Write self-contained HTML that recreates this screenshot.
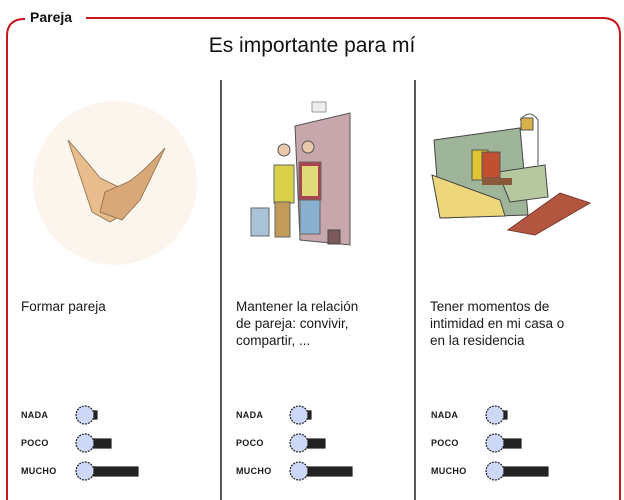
<!DOCTYPE html>
<html><head><meta charset="utf-8"><style>
html,body{margin:0;padding:0;background:#fff;width:624px;height:500px;overflow:hidden;font-family:"Liberation Sans",sans-serif;}
.t{position:absolute;font-size:13.5px;line-height:17px;color:#1a1a1a;}
.l{position:absolute;font-size:9px;font-weight:bold;color:#1a1a1a;letter-spacing:0.3px;}
</style></head><body>
<svg width="624" height="500" style="position:absolute;left:0;top:0">
<path d="M7 500 V36 Q7 20 23 19 H25" fill="none" stroke="#c8161d" stroke-width="2"/>
<path d="M86 18 H604 Q620 19 620 35 V500" fill="none" stroke="#c8161d" stroke-width="2"/>
<line x1="221" y1="80" x2="221" y2="500" stroke="#222" stroke-width="1.5"/>
<line x1="415" y1="80" x2="415" y2="500" stroke="#222" stroke-width="1.5"/>
<!-- hands -->
<circle cx="115" cy="183" r="82" fill="#fbf5ee"/>
<path d="M68 140 Q90 165 100 178 L125 190 L130 210 L110 222 L92 212 Q78 170 68 140Z" fill="#e8bc8c" stroke="#8a6a4a" stroke-width="0.8"/>
<path d="M165 148 Q140 175 128 182 L105 192 L100 212 L122 220 L140 200 Q155 170 165 148Z" fill="#d9a878" stroke="#8a6a4a" stroke-width="0.8"/>
<!-- door scene -->
<rect x="312" y="102" width="14" height="10" fill="#eee" stroke="#999"/>
<path d="M295 126 L350 113 L350 245 L300 240Z" fill="#c7a7ac" stroke="#555"/>
<circle cx="284" cy="150" r="6" fill="#e8c8a8" stroke="#555"/>
<circle cx="308" cy="147" r="6" fill="#e8c8a8" stroke="#555"/>
<rect x="274" y="165" width="20" height="38" fill="#d9d04a" stroke="#666"/>
<rect x="275" y="202" width="15" height="35" fill="#c49a5a" stroke="#666"/>
<rect x="299" y="162" width="22" height="38" fill="#a8444f" stroke="#666"/>
<rect x="302" y="166" width="16" height="30" fill="#e0db7a"/>
<rect x="300" y="200" width="20" height="34" fill="#8ab0d0" stroke="#666"/>
<rect x="251" y="208" width="18" height="28" fill="#a8c4d6" stroke="#666"/>
<rect x="328" y="230" width="12" height="14" fill="#7a5a5a" stroke="#444"/>
<!-- sofa scene -->
<path d="M434 140 L520 128 L528 215 L440 218Z" fill="#9fb59a" stroke="#444"/>
<path d="M432 175 L440 218 L505 216 L500 200 Z" fill="#eed77a" stroke="#444"/>
<path d="M498 172 L545 165 L548 197 L510 202Z" fill="#b5c89f" stroke="#444"/>
<rect x="472" y="150" width="16" height="30" fill="#e0c630" stroke="#555"/>
<rect x="482" y="152" width="18" height="26" fill="#c0502f" stroke="#555"/>
<rect x="482" y="178" width="30" height="7" fill="#8a5a3a"/>
<path d="M520 120 Q530 108 538 120 V165" fill="none" stroke="#555"/>
<rect x="521" y="118" width="12" height="12" fill="#d9b34a" stroke="#555"/>
<path d="M508 230 L560 193 L590 203 L535 235Z" fill="#b2563f" stroke="#7a3a2a"/>
</svg>
<div style="position:absolute;left:30px;top:9px;font-size:14px;font-weight:bold;color:#111">Pareja</div>
<div style="position:absolute;left:0;width:624px;top:34px;text-align:center;font-size:21px;color:#111">Es importante para mí</div>
<div class="t" style="left:21px;top:298px">Formar pareja</div>
<div class="t" style="left:236px;top:298px">Mantener la relación<br>de pareja: convivir,<br>compartir, ...</div>
<div class="t" style="left:430px;top:298px">Tener momentos de<br>intimidad en mi casa o<br>en la residencia</div>
<svg width="624" height="500" style="position:absolute;left:0;top:0">
<g id="r" stroke="#222" stroke-width="1.2">
<rect x="92" y="411" width="5" height="8" fill="#222"/>
<circle cx="85" cy="415" r="9" fill="#cdd8f7" stroke-dasharray="2 1"/>
<rect x="92" y="439" width="19" height="9" fill="#222"/>
<circle cx="85" cy="443" r="9" fill="#cdd8f7" stroke-dasharray="2 1"/>
<rect x="92" y="467" width="46" height="9" fill="#222"/>
<circle cx="85" cy="471" r="9" fill="#cdd8f7" stroke-dasharray="2 1"/>
</g>
<use href="#r" x="214"/>
<use href="#r" x="410"/>
</svg>
<div class="l" style="left:21px;top:410px">NADA</div>
<div class="l" style="left:21px;top:438px">POCO</div>
<div class="l" style="left:21px;top:466px">MUCHO</div>
<div class="l" style="left:236px;top:410px">NADA</div>
<div class="l" style="left:236px;top:438px">POCO</div>
<div class="l" style="left:236px;top:466px">MUCHO</div>
<div class="l" style="left:431px;top:410px">NADA</div>
<div class="l" style="left:431px;top:438px">POCO</div>
<div class="l" style="left:431px;top:466px">MUCHO</div>
</body></html>
